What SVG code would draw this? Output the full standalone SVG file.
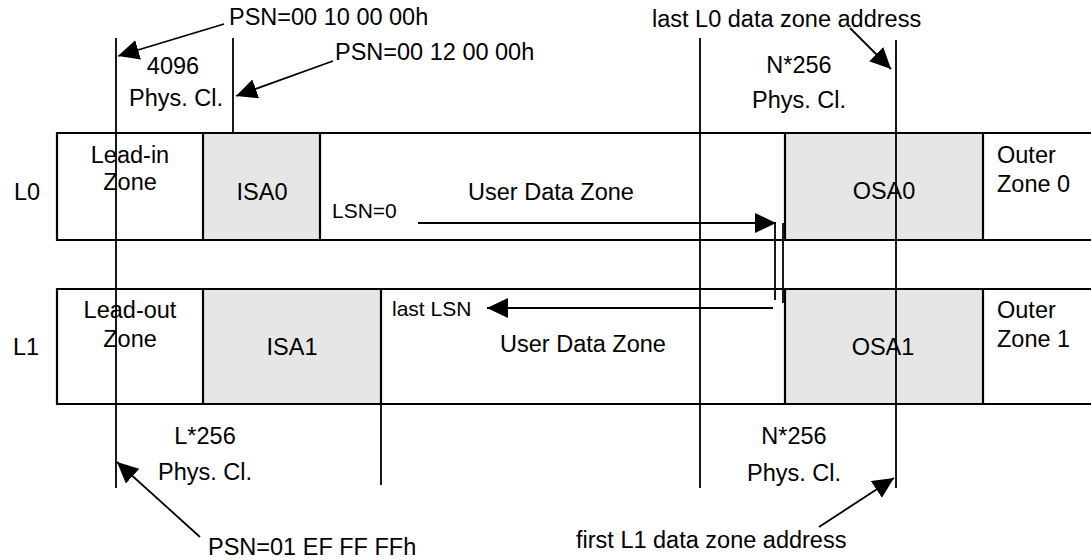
<svg xmlns="http://www.w3.org/2000/svg" width="1091" height="560" viewBox="0 0 1091 560">
  <style>
    text { font-family: "Liberation Sans", Arial, sans-serif; font-size: 23.5px; fill: #000; }
    .c { text-anchor: middle; }
    .s { font-size: 21px; }
    .box { stroke: #000; stroke-width: 2.2; fill: none; }
    .gray { fill: #e6e6e6; stroke: none; }
    .ln { stroke: #000; stroke-width: 1.8; fill: none; }
    .arr { stroke: #000; stroke-width: 1.8; fill: none; marker-end: url(#ah); }
  </style>
  <defs>
    <marker id="ah" markerUnits="userSpaceOnUse" markerWidth="24" markerHeight="22" refX="21" refY="10" orient="auto">
      <path d="M0,0 L21,10 L0,20 Z" fill="#000"/>
    </marker>
  </defs>
  <rect width="1091" height="560" fill="#fff"/>

  <g id="layer-L0">
    <rect class="gray" x="203" y="133" width="117" height="107"/>
    <rect class="gray" x="785" y="133" width="198" height="107"/>
    <path class="box" d="M1091,133 H57 V240 H1091 M203,133 V240 M320,133 V240 M785,133 V240 M983,133 V240"/>
    <text x="14" y="200">L0</text>
    <text class="c" x="130" y="163">Lead-in</text>
    <text class="c" x="130" y="190">Zone</text>
    <text class="c" x="262" y="200">ISA0</text>
    <text class="c" x="551" y="200">User Data Zone</text>
    <text class="c" x="884" y="199">OSA0</text>
    <text x="997" y="163">Outer</text>
    <text x="997" y="192">Zone 0</text>
    <text class="s" x="332" y="218">LSN=0</text>
  </g>

  <g id="layer-L1">
    <rect class="gray" x="203" y="289" width="178" height="115"/>
    <rect class="gray" x="785" y="289" width="198" height="115"/>
    <path class="box" d="M1091,289 H57 V404 H1091 M203,289 V404 M381,289 V404 M785,289 V404 M983,289 V404"/>
    <text x="13" y="355">L1</text>
    <text class="c" x="130" y="318">Lead-out</text>
    <text class="c" x="130" y="347">Zone</text>
    <text class="c" x="292" y="355">ISA1</text>
    <text class="c" x="583" y="352">User Data Zone</text>
    <text class="c" x="883" y="355">OSA1</text>
    <text x="997" y="318">Outer</text>
    <text x="997" y="347">Zone 1</text>
    <text class="s" x="392" y="316">last LSN</text>
  </g>

  <g id="labels-top">
    <text x="229" y="25">PSN=00 10 00 00h</text>
    <text class="c" x="173" y="74">4096</text>
    <text class="c" x="176" y="106">Phys. Cl.</text>
    <text x="335" y="60">PSN=00 12 00 00h</text>
    <text x="652" y="27">last L0 data zone address</text>
    <text class="c" x="799" y="73">N*256</text>
    <text class="c" x="799" y="108">Phys. Cl.</text>
  </g>

  <g id="labels-bottom">
    <text class="c" x="205" y="444">L*256</text>
    <text class="c" x="205" y="480">Phys. Cl.</text>
    <text x="208" y="555">PSN=01 EF FF FFh</text>
    <text class="c" x="794" y="444">N*256</text>
    <text class="c" x="794" y="481">Phys. Cl.</text>
    <text x="576" y="548">first L1 data zone address</text>
  </g>

  <g id="connectors">
    <line class="ln" x1="116" y1="38" x2="116" y2="488"/>
    <line class="ln" x1="233" y1="38" x2="233" y2="133"/>
    <line class="ln" x1="381" y1="404" x2="381" y2="485"/>
    <line class="ln" x1="700" y1="38" x2="700" y2="488"/>
    <line class="ln" x1="896" y1="40" x2="896" y2="488"/>
    <line class="arr" x1="224" y1="24" x2="118" y2="56"/>
    <line class="arr" x1="333" y1="61" x2="236" y2="96"/>
    <line class="arr" x1="850" y1="28" x2="891" y2="69"/>
    <line class="arr" x1="200" y1="537" x2="117" y2="462"/>
    <line class="arr" x1="819" y1="527" x2="894" y2="478"/>
    <line class="arr" x1="418" y1="223" x2="776" y2="223"/>
    <line class="ln" x1="775" y1="223" x2="775" y2="300"/>
    <line class="ln" x1="783" y1="223" x2="783" y2="303"/>
    <line class="arr" x1="773" y1="308" x2="487" y2="308"/>
  </g>
</svg>
